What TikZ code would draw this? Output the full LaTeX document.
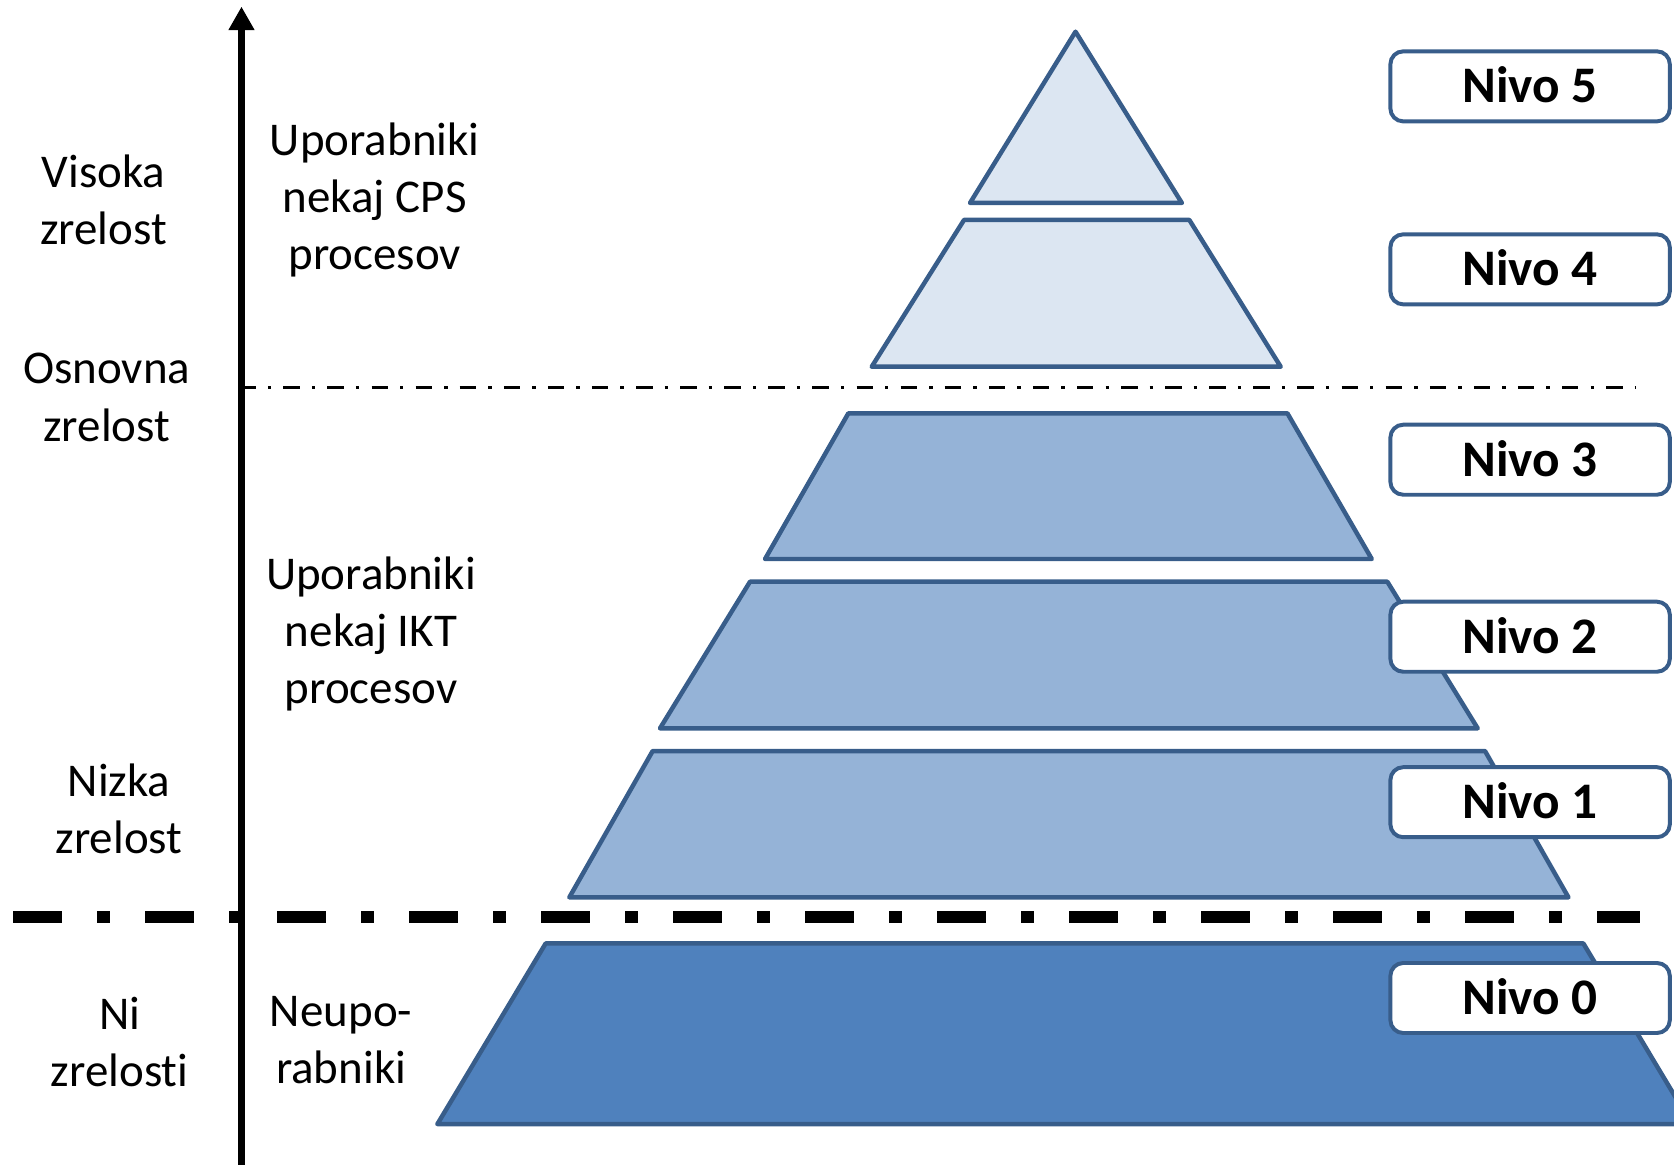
\documentclass[tikz,border=0pt]{standalone}
\usepackage{fontspec}
\setmainfont{Carlito}[RawFeature={-liga}]
\usetikzlibrary{arrows.meta}
\definecolor{edgeblue}{HTML}{385D8A}
\definecolor{lightfill}{HTML}{DCE6F2}
\definecolor{midfill}{HTML}{95B3D7}
\definecolor{darkfill}{HTML}{4F81BD}
\tikzset{
  levelshape/.style={draw=edgeblue, line width=4.2pt, line join=round},
  nivobox/.style={draw=edgeblue, line width=3.7pt, fill=white, rounded corners=12pt,
    minimum width=261.7pt, minimum height=65.6pt, inner sep=0pt,
    font=\fontsize{48}{58}\selectfont\bfseries, text height=31pt, text depth=0pt},
  lbl/.style={align=center, anchor=base, inner sep=0pt, font=\fontsize{44}{53.6}\selectfont},
  thinline/.style={line width=3.6pt, dash pattern=on 15.4pt off 11.3pt on 3.2pt off 11.4pt},
  thickline/.style={line width=11pt, dash pattern=on 45.3pt off 33.4pt on 11.6pt off 33.36pt},
  axisline/.style={line width=5.8pt, -{Triangle[width=23pt,length=22pt]}}
}
\begin{document}
\begin{tikzpicture}[x=1pt,y=-1pt]
\useasboundingbox (0,0) rectangle (1568,1091.2);
\clip (0,0) rectangle (1568,1091.2);

% pyramid levels
\path[levelshape, fill=lightfill] (1007.4,29.7) -- (1107,190.1) -- (908.6,190.1) -- cycle;
\path[levelshape, fill=lightfill] (903,206) -- (1114,206) -- (1199.6,343.5) -- (816.5,343.5) -- cycle;
\path[levelshape, fill=midfill] (794.6,387.2) -- (1205.9,387.2) -- (1284.9,523.6) -- (716.6,523.6) -- cycle;
\path[levelshape, fill=midfill] (702.5,544.9) -- (1299.5,544.9) -- (1384.1,682.2) -- (618.2,682.2) -- cycle;
\path[levelshape, fill=midfill] (611.3,703.5) -- (1391,703.5) -- (1469.1,840.5) -- (533.3,840.5) -- cycle;
\path[levelshape, fill=darkfill] (511.1,883.7) -- (1483.1,883.7) -- (1584.5,1052.9) -- (409.7,1052.9) -- cycle;

% separator lines
\coordinate (thinA) at (224.1,363);
\coordinate (thinB) at (1532,363);
\coordinate (thickA) at (12.4,859);
\coordinate (thickB) at (1536,859);
\draw[thinline] (thinA) -- (thinB);
\draw[thickline] (thickA) -- (thickB);

% axis
\coordinate (axbot) at (226.2,1100);
\coordinate (axtop) at (226.2,6.2);
\draw[axisline] (axbot) -- (axtop);

% level boxes
\node[nivobox] (n5) at (1433.2,80.9) {Nivo 5};
\node[nivobox] (n4) at (1433.2,252.3) {Nivo 4};
\node[nivobox] (n3) at (1433.2,430.6) {Nivo 3};
\node[nivobox] (n2) at (1433.2,596.4) {Nivo 2};
\node[nivobox] (n1) at (1433.2,751.4) {Nivo 1};
\node[nivobox] (n0) at (1433.2,934.8) {Nivo 0};

% left labels (anchor = baseline of last line)
\node[lbl] (visoka) at (97,229.1) {Visoka\\zrelost};
\node[lbl] (osnovna) at (100,413.1) {Osnovna\\zrelost};
\node[lbl] (nizka) at (111.5,799.6) {Nizka\\zrelost};
\node[lbl] (ni) at (112,1017.5) {Ni\\zrelosti};
\node[lbl] (cps) at (351,252.7) {Uporabniki\\nekaj CPS\\procesov};
\node[lbl] (ikt) at (347.5,659.2) {Uporabniki\\nekaj IKT\\procesov};
\node[lbl] (neup) at (319.5,1014.8) {Neupo-\\rabniki};
\end{tikzpicture}
\end{document}
